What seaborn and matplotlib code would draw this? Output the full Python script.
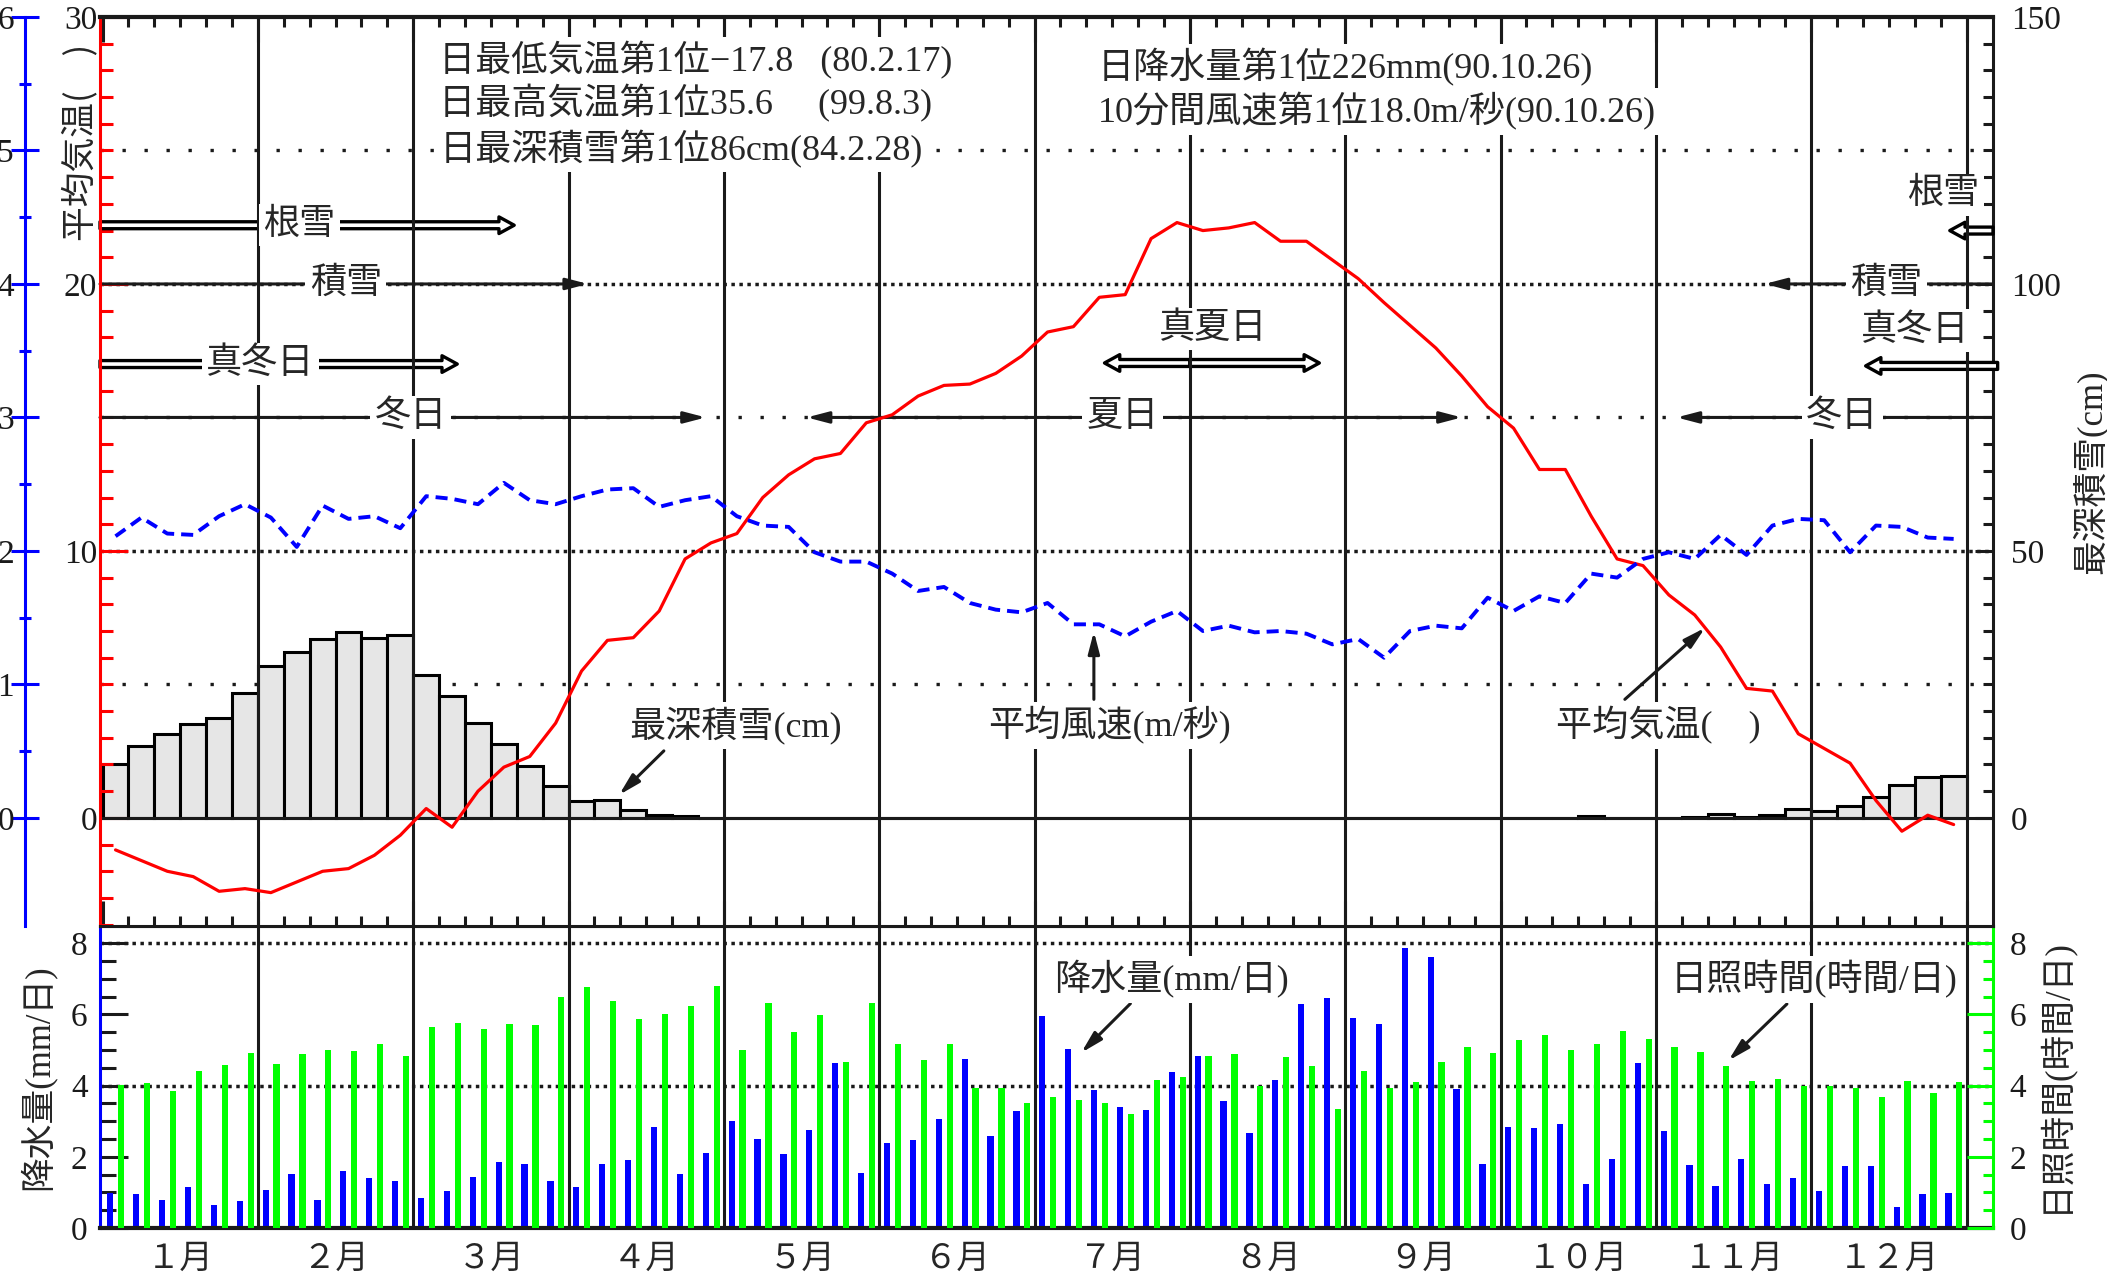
import numpy as np
import pandas as pd
import matplotlib
matplotlib.use("Agg")
import matplotlib.pyplot as plt
from matplotlib.patches import FancyArrowPatch
from matplotlib.ticker import FixedLocator
import seaborn as sns

# ── Data (5-day means, 72 pentads) ───────────────────────────────────
MONTHS = ["１月", "２月", "３月", "４月", "５月", "６月", "７月", "８月", "９月",
          "１０月", "１１月", "１２月"]

TEMP_C = [-1.2, -1.6, -2.0, -2.2, -2.75, -2.65, -2.8, -2.4, -2.0, -1.9, -1.4, -0.65,
          0.35, -0.35, 1.0, 1.9, 2.3, 3.55, 5.5, 6.65, 6.75, 7.75, 9.7, 10.3,
          10.65, 12.0, 12.85, 13.45, 13.65, 14.8, 15.1, 15.8, 16.2, 16.25, 16.65, 17.3,
          18.2, 18.4, 19.5, 19.6, 21.7, 22.3, 22.0, 22.1, 22.3, 21.6, 21.6, 20.9,
          20.2, 19.3, 18.45, 17.6, 16.55, 15.4, 14.6, 13.05, 13.05, 11.3, 9.7, 9.45,
          8.35, 7.6, 6.4, 4.85, 4.75, 3.15, 2.6, 2.05, 0.65, -0.5, 0.1, -0.25]

WIND_MS = [2.11, 2.25, 2.13, 2.12, 2.26, 2.35, 2.25, 2.03, 2.34, 2.24, 2.26, 2.17,
           2.41, 2.39, 2.35, 2.51, 2.38, 2.35, 2.41, 2.46, 2.47, 2.33, 2.38, 2.41,
           2.26, 2.19, 2.18, 1.99, 1.92, 1.92, 1.83, 1.70, 1.73, 1.61, 1.56, 1.54,
           1.61, 1.45, 1.45, 1.36, 1.47, 1.55, 1.40, 1.44, 1.39, 1.40, 1.38, 1.30,
           1.34, 1.20, 1.40, 1.44, 1.42, 1.65, 1.55, 1.66, 1.61, 1.83, 1.80, 1.94,
           1.99, 1.94, 2.12, 1.97, 2.19, 2.24, 2.23, 1.99, 2.19, 2.18, 2.10, 2.09]

SNOW_CM = [10.1, 13.5, 15.8, 17.6, 18.8, 23.4, 28.4, 31.0, 33.5, 34.8, 33.7, 34.2,
           26.7, 22.9, 17.8, 13.8, 9.8, 6.0, 3.2, 3.4, 1.5, 0.5, 0.3, 0.0,
           0, 0, 0, 0, 0, 0, 0, 0, 0, 0, 0, 0,
           0, 0, 0, 0, 0, 0, 0, 0, 0, 0, 0, 0,
           0, 0, 0, 0, 0, 0, 0, 0, 0, 0.35, 0, 0,
           0, 0.2, 0.8, 0.2, 0.5, 1.6, 1.2, 2.3, 4.0, 6.2, 7.7, 7.8]

RAIN_MM = [0.98, 0.95, 0.78, 1.15, 0.65, 0.75, 1.08, 1.52, 0.80, 1.59, 1.39, 1.31,
           0.83, 1.03, 1.43, 1.84, 1.80, 1.31, 1.16, 1.80, 1.90, 2.83, 1.53, 2.10,
           3.01, 2.50, 2.09, 2.74, 4.63, 1.54, 2.40, 2.48, 3.05, 4.74, 2.57, 3.29,
           5.94, 5.02, 3.88, 3.41, 3.31, 4.38, 4.83, 3.57, 2.66, 4.15, 6.28, 6.46,
           5.91, 5.73, 7.86, 7.61, 3.91, 1.80, 2.85, 2.80, 2.92, 1.23, 1.95, 4.63,
           2.73, 1.77, 1.17, 1.94, 1.23, 1.39, 1.05, 1.73, 1.75, 0.59, 0.95, 0.99]

SUN_H = [4.02, 4.07, 3.86, 4.42, 4.58, 4.91, 4.60, 4.88, 5.00, 4.98, 5.16, 4.84,
         5.65, 5.75, 5.58, 5.72, 5.69, 6.50, 6.77, 6.38, 5.87, 6.01, 6.24, 6.80,
         4.99, 6.31, 5.49, 5.99, 4.67, 6.32, 5.17, 4.71, 5.16, 3.94, 3.92, 3.50,
         3.68, 3.59, 3.50, 3.21, 4.16, 4.24, 4.83, 4.89, 4.00, 4.81, 4.55, 3.35,
         4.42, 3.93, 4.09, 4.65, 5.08, 4.92, 5.27, 5.43, 5.00, 5.16, 5.52, 5.30,
         5.07, 4.95, 4.56, 4.13, 4.18, 3.99, 3.99, 3.94, 3.67, 4.13, 3.79, 4.10]

RECORDS_LEFT = ["日最低気温第1位−17.8   (80.2.17)",
                "日最高気温第1位35.6     (99.8.3)",
                "日最深積雪第1位86cm(84.2.28)"]
RECORDS_RIGHT = ["日降水量第1位226mm(90.10.26)",
                 "10分間風速第1位18.0m/秒(90.10.26)"]

# ── Scales ───────────────────────────────────────────────────────────
SNOW_PER_C = 5.0      # right axis: 150 cm  <->  30 C
WIND_PER_C = 0.2      # outer left axis: 6 m/s <-> 30 C
YLIM_T = (-4.05, 30)
YLIM_B = (0, 8.48)
XLIM = (-0.1, 73.02)

pentad = np.arange(72)
df = pd.DataFrame({
    "x_mid": pentad + 0.5,
    "x_rain": pentad + 0.30,
    "x_sun": pentad + 0.72,
    "temp": TEMP_C, "wind": WIND_MS, "snow": SNOW_CM,
    "rain": RAIN_MM, "sun": SUN_H,
})

# ── Style ────────────────────────────────────────────────────────────
sns.set_theme(style="white")
MIXED = ["Liberation Serif", "Noto Sans CJK JP"]
SANS_JP = ["Noto Sans CJK JP", "DejaVu Sans"]
plt.rcParams["font.family"] = MIXED
plt.rcParams["axes.unicode_minus"] = True

DENSE = (0, (1, 1.3))
SPARSE = (0, (1, 5.6))
GREEN = "#00ff00"
BLUE = "#0000ff"
LW = 2.2
TXT = 26

fig = plt.figure(figsize=(21.07, 12.78), dpi=100)
L, W = 100 / 2107, 1893 / 2107
ax = fig.add_axes([L, 1 - 926 / 1278, W, 909 / 1278])
axb = fig.add_axes([L, 1 - 1228 / 1278, W, 302 / 1278])
ax_snow = ax.twinx()
ax_wind = ax.twinx()
axs = axb.twinx()

ax_snow.set_zorder(1); ax.set_zorder(2); ax_wind.set_zorder(3)
ax.patch.set_visible(False)
ax_snow.patch.set_visible(True); ax_snow.patch.set_facecolor("white")

# ── Top panel: reference lines (under the bars) ─────────────────────
for lvl, ls in [(25, SPARSE), (20, DENSE), (15, SPARSE), (10, DENSE), (5, SPARSE)]:
    ax_snow.axhline(lvl * SNOW_PER_C, color="k", lw=2.5 if ls == DENSE else 2.4,
                    ls=ls, zorder=0.5)

sns.barplot(data=df, x="x_mid", y="snow", ax=ax_snow, native_scale=True, width=1.0,
            color="#e6e6e6", saturation=1, edgecolor="black", linewidth=LW,
            errorbar=None, zorder=1)

ax.axhline(0, color="k", lw=LW, zorder=2)
for m in range(6, 73, 6):
    ax.axvline(m, color="k", lw=LW, zorder=2)
    axb.axvline(m, color="k", lw=LW, zorder=2)

sns.lineplot(data=df, x="x_mid", y="temp", ax=ax, color="red", lw=2.3,
             errorbar=None, zorder=3)
sns.lineplot(data=df, x="x_mid", y="wind", ax=ax_wind, color=BLUE, lw=2.8,
             linestyle=(0, (3.1, 1.8)), errorbar=None)


def label(axis, x, y, s, size=TXT, **kw):
    axis.text(x, y, s, ha=kw.pop("ha", "center"), va="center", fontsize=size,
              zorder=5, bbox=dict(fc="white", ec="none", pad=3), **kw)


def line_arrow(axis, x0, y0, x1, y1, style="-|>"):
    axis.annotate("", xy=(x1, y1), xytext=(x0, y0), zorder=2.5,
                  arrowprops=dict(arrowstyle=f"{style},head_length=0.65,head_width=0.17",
                                  color="k", lw=LW, shrinkA=0, shrinkB=0,
                                  mutation_scale=20))


def hollow_arrow(axis, x0, y0, x1, y1):
    axis.add_patch(FancyArrowPatch(
        (x0, y0), (x1, y1),
        arrowstyle="simple,head_length=1.1,head_width=1.2,tail_width=0.5",
        mutation_scale=10, fc="white", ec="black", lw=2.4,
        shrinkA=0, shrinkB=0, zorder=1.5, clip_on=False))


# snow / winter / summer periods
hollow_arrow(ax, XLIM[0], 22.2, 15.9, 22.2)
label(ax, 7.6, 22.2, "根雪")
hollow_arrow(ax, 73.02, 22.0, 71.35, 22.0)
label(ax, 71.1, 23.35, "根雪")

line_arrow(ax, XLIM[0], 20, 18.75, 20)
label(ax, 9.4, 20, "積雪")
line_arrow(ax, 73.02, 20, 64.2, 20)
label(ax, 68.9, 20, "積雪")

hollow_arrow(ax, XLIM[0], 17.0, 13.7, 17.0)
label(ax, 6.1, 17.0, "真冬日")
hollow_arrow(ax, 73.2, 16.93, 68.1, 16.93)
label(ax, 70.0, 18.25, "真冬日")

line_arrow(ax, XLIM[0], 15, 23.3, 15)
label(ax, 11.9, 15, "冬日")
line_arrow(ax, 73.02, 15, 60.8, 15)
label(ax, 67.2, 15, "冬日")

line_arrow(ax, 27.2, 15, 52.5, 15, style="<|-|>")
label(ax, 39.4, 15, "夏日")

hollow_arrow(ax, 42, 17.04, 38.7, 17.04)
hollow_arrow(ax, 42, 17.04, 47.0, 17.04)
label(ax, 42.9, 18.31, "真夏日")

# series labels
label(ax, 24.46, 3.45, "最深積雪(cm)")
line_arrow(ax, 21.68, 2.51, 19.95, 0.86)
label(ax, 38.9, 3.45, "平均風速(m/秒)")
line_arrow(ax, 38.29, 4.44, 38.29, 6.98)
label(ax, 60.1, 3.45, "平均気温(\u3000)")
line_arrow(ax, 58.8, 4.44, 61.9, 7.12)

# records
for y, s in zip([28.39, 26.76, 25.06], RECORDS_LEFT):
    label(ax, 13.0, y, s, ha="left")
for y, s in zip([28.13, 26.46], RECORDS_RIGHT):
    label(ax, 38.45, y, s, ha="left")

# ── Top panel axes ───────────────────────────────────────────────────
ax.set_xlim(XLIM)
ax.set_ylim(YLIM_T)
ax_snow.set_ylim(YLIM_T[0] * SNOW_PER_C, YLIM_T[1] * SNOW_PER_C)
ax_wind.set_ylim(YLIM_T[0] * WIND_PER_C, YLIM_T[1] * WIND_PER_C)

ax.xaxis.set_major_locator(FixedLocator(np.arange(0, 73, 6)))
ax.xaxis.set_minor_locator(FixedLocator(np.arange(0, 73, 1)))
ax.tick_params(axis="x", which="both", direction="in", top=True, bottom=True,
               labelbottom=False, labeltop=False, width=LW, color="k")
ax.tick_params(axis="x", which="major", length=18)
ax.tick_params(axis="x", which="minor", length=7)

ax.yaxis.set_major_locator(FixedLocator([0, 10, 20, 30]))
ax.yaxis.set_minor_locator(FixedLocator(np.arange(-4, 31, 1)))
ax.tick_params(axis="y", which="both", direction="in", color="red", labelcolor="k",
               width=LW, left=True, right=False, labelsize=24, pad=2)
ax.tick_params(axis="y", which="major", length=20)
ax.tick_params(axis="y", which="minor", length=9.5)
ax.spines["left"].set_color("red"); ax.spines["left"].set_linewidth(LW)
ax.spines["top"].set_color("k"); ax.spines["top"].set_linewidth(3)
ax.spines["bottom"].set_color("k"); ax.spines["bottom"].set_linewidth(LW)
ax.spines["right"].set_visible(False)

ax_snow.yaxis.set_major_locator(FixedLocator([0, 50, 100, 150]))
ax_snow.yaxis.set_minor_locator(FixedLocator(np.arange(0, 151, 5)))
ax_snow.tick_params(axis="y", which="both", direction="in", color="k", labelcolor="k",
                    width=LW, labelsize=24, pad=13)
ax_snow.tick_params(axis="y", which="major", length=13)
ax_snow.tick_params(axis="y", which="minor", length=7)
for s in ["left", "top", "bottom"]:
    ax_snow.spines[s].set_visible(False)
ax_snow.spines["right"].set_color("k"); ax_snow.spines["right"].set_linewidth(LW)

ax_wind.yaxis.set_ticks_position("left")
ax_wind.spines["left"].set_position(("outward", 54))
ax_wind.spines["left"].set_visible(True)
ax_wind.spines["left"].set_color(BLUE); ax_wind.spines["left"].set_linewidth(LW)
for s in ["right", "top", "bottom"]:
    ax_wind.spines[s].set_visible(False)
ax_wind.yaxis.set_major_locator(FixedLocator(np.arange(0, 7, 1)))
ax_wind.yaxis.set_minor_locator(FixedLocator(np.arange(0.5, 6, 1)))
ax_wind.tick_params(axis="y", which="both", direction="inout", color=BLUE,
                    labelcolor="k", width=LW, labelsize=24, pad=-2)
ax_wind.tick_params(axis="y", which="major", length=20)
ax_wind.tick_params(axis="y", which="minor", length=8)

for a in (ax, ax_snow, ax_wind):
    a.set_xlabel(""); a.set_ylabel("")

# ── Bottom panel ─────────────────────────────────────────────────────
for lvl in (8, 4):
    axb.axhline(lvl, color="k", lw=2.5, ls=DENSE, zorder=0.5)

sns.barplot(data=df, x="x_rain", y="rain", ax=axb, native_scale=True, width=0.24,
            color=BLUE, saturation=1, linewidth=0, errorbar=None, zorder=1)
sns.barplot(data=df, x="x_sun", y="sun", ax=axs, native_scale=True, width=0.24,
            color=GREEN, saturation=1, linewidth=0, errorbar=None, zorder=1)

label(axs, 41.3, 6.98, "降水量(mm/日)")
line_arrow(axs, 39.7, 6.3, 37.8, 4.92)
label(axs, 66.1, 6.98, "日照時間(時間/日)")
line_arrow(axs, 65.06, 6.29, 62.8, 4.7)

axb.set_xlim(XLIM)
axb.set_ylim(YLIM_B)
axs.set_ylim(YLIM_B)

axb.xaxis.set_major_locator(FixedLocator(np.arange(3, 72, 6)))
axb.set_xticklabels(MONTHS, fontsize=24, family=SANS_JP)
axb.tick_params(axis="x", length=0, pad=9, bottom=True, top=False)

axb.yaxis.set_major_locator(FixedLocator(np.arange(0, 9, 2)))
axb.yaxis.set_minor_locator(FixedLocator(np.arange(0, 8.01, 0.5)))
axb.tick_params(axis="y", which="both", direction="in", color="k", labelcolor="k",
                width=LW, labelsize=24, pad=9, left=True, right=False)
axb.tick_params(axis="y", which="major", length=20)
axb.tick_params(axis="y", which="minor", length=11.5)
axb.spines["left"].set_color(BLUE); axb.spines["left"].set_linewidth(LW)
axb.spines["top"].set_color("k"); axb.spines["top"].set_linewidth(LW)
axb.spines["bottom"].set_color("k"); axb.spines["bottom"].set_linewidth(3)
axb.spines["right"].set_visible(False)

axs.yaxis.set_major_locator(FixedLocator(np.arange(0, 9, 2)))
axs.yaxis.set_minor_locator(FixedLocator(np.arange(0, 8.01, 0.5)))
axs.tick_params(axis="y", which="both", direction="in", color=GREEN, labelcolor="k",
                width=LW, labelsize=24, pad=12)
axs.tick_params(axis="y", which="major", length=18.7)
axs.tick_params(axis="y", which="minor", length=7)
for s in ["left", "top", "bottom"]:
    axs.spines[s].set_visible(False)
axs.spines["right"].set_color(GREEN); axs.spines["right"].set_linewidth(LW)

for a in (axb, axs):
    a.set_xlabel(""); a.set_ylabel("")

# ── Axis titles ──────────────────────────────────────────────────────
fig.text(80 / 2107, 1 - 142 / 1278, "平均気温(\u3000)", rotation=90, ha="center",
         va="center", fontsize=25, family=SANS_JP)
fig.text(2090 / 2107, 1 - 472 / 1278, "最深積雪(cm)", rotation=90, ha="center",
         va="center", fontsize=25)
fig.text(37 / 2107, 1 - 1077 / 1278, "降水量(mm/日)", rotation=90, ha="center",
         va="center", fontsize=25)
fig.text(2054 / 2107, 1 - 1075 / 1278, "日照時間(時間/日)", rotation=90, ha="center",
         va="center", fontsize=25)

fig.savefig("out.png", dpi=100)
plt.close(fig)
